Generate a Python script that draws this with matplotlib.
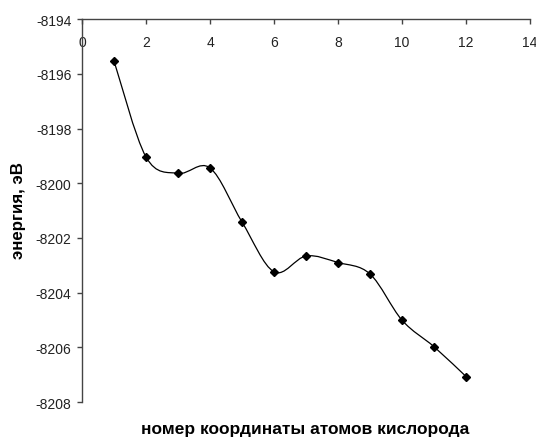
import numpy as np
from matplotlib import pyplot as plt
from matplotlib.path import Path
from matplotlib.patches import PathPatch

# номер координаты и энергия (эВ)
coord = [1, 2, 3, 4, 5, 6, 7, 8, 9, 10, 11, 12]
energy = [-8195.53, -8199.04, -8199.64, -8199.44, -8201.42, -8203.24,
          -8202.66, -8202.90, -8203.32, -8205.01, -8205.98, -8207.07]

x_ticks = [0, 2, 4, 6, 8, 10, 12, 14]
y_ticks = [-8194, -8196, -8198, -8200, -8202, -8204, -8206, -8208]

x_label = "номер координаты атомов кислорода"
y_label = "энергия, эВ"

plt.rcParams["font.family"] = ["Liberation Sans", "DejaVu Sans"]
plt.rcParams["axes.unicode_minus"] = False


def smooth_path(xs, ys):
    # сглаженная линия как в Excel: кубические Безье через точки
    pts = np.column_stack([xs, ys]).astype(float)
    n = len(pts)
    verts = [pts[0]]
    codes = [Path.MOVETO]
    for i in range(n - 1):
        p0 = pts[i - 1] if i > 0 else pts[i]
        p1 = pts[i]
        p2 = pts[i + 1]
        p3 = pts[i + 2] if i + 2 < n else pts[i + 1]
        c1 = p1 + (p2 - p0) / 6
        c2 = p2 - (p3 - p1) / 6
        verts += [c1, c2, p2]
        codes += [Path.CURVE4] * 3
    return Path(verts, codes)


fig = plt.figure(figsize=(5.36, 4.39), dpi=100)
ax = fig.add_axes([0.153, 0.082, 0.836, 0.872])

ax.add_patch(PathPatch(smooth_path(coord, energy), facecolor="none",
                       edgecolor="black", linewidth=0.9))
ax.plot(coord, energy, linestyle="none", marker="D", markersize=4.5,
        color="black")

ax.set_xlim(0, 14)
ax.set_ylim(-8208, -8194)
ax.set_xticks(x_ticks)
ax.set_yticks(y_ticks)

ax.spines["top"].set_visible(False)
ax.spines["right"].set_visible(False)
ax.spines["bottom"].set_position(("data", -8194))
for s in ("left", "bottom"):
    ax.spines[s].set_color("#444444")
    ax.spines[s].set_linewidth(1.0)

ax.tick_params(axis="both", direction="out", length=3.5, width=1.0,
               color="#444444", labelsize=10, labelcolor="#222222")
ax.tick_params(axis="x", pad=8)
ax.tick_params(axis="y", pad=4)

fig.text(0.57, 0.005, x_label, ha="center", va="bottom",
         fontsize=12.5, fontweight="bold")
fig.text(0.035, 0.52, y_label, ha="center", va="center", rotation=90,
         fontsize=12.2, fontweight="bold")

fig.savefig("out.png", dpi=100)
